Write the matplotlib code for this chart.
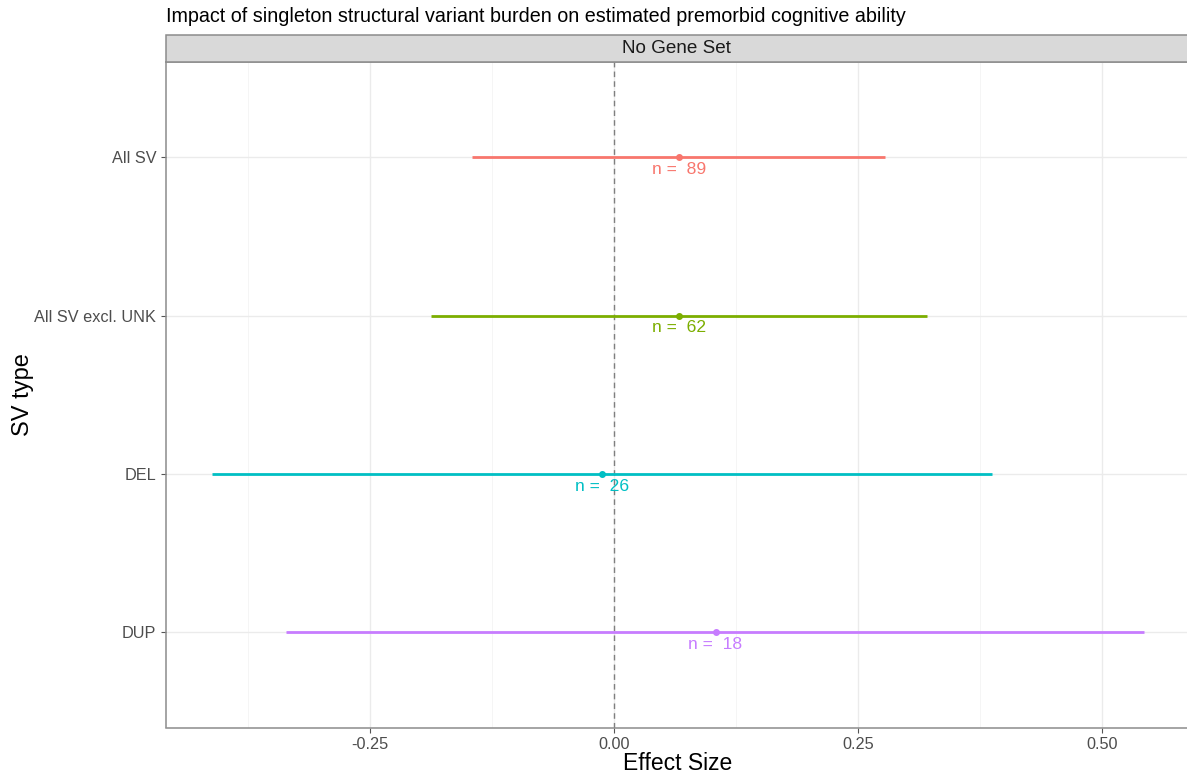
import matplotlib.pyplot as plt
from matplotlib.patches import Rectangle

plt.rcParams['font.family'] = ['Liberation Sans', 'DejaVu Sans']

# Burden estimates per SV type
sv_types = ["All SV", "All SV excl. UNK", "DEL", "DUP"]
estimate = [0.067, 0.067, -0.012, 0.104]
ci_low = [-0.146, -0.188, -0.412, -0.336]
ci_high = [0.278, 0.321, 0.387, 0.543]
n_carriers = [89, 62, 26, 18]
colors = ["#F8766D", "#7CAE00", "#00BFC4", "#C77CFF"]

xticks = [-0.25, 0.0, 0.25, 0.50]
xtick_labels = ["-0.25", "0.00", "0.25", "0.50"]
minor_ticks = [-0.375, -0.125, 0.125, 0.375]

W, H = 1187, 776
fig = plt.figure(figsize=(W / 100, H / 100), dpi=100)

left, right = 166 / W, 1189 / W
bottom, top = 1 - 727.5 / H, 1 - 62 / H
ax = fig.add_axes([left, bottom, right - left, top - bottom])

n = len(sv_types)
ypos = list(range(n))
for i in range(n):
    ax.hlines(ypos[i], ci_low[i], ci_high[i], color=colors[i], lw=2.0, zorder=3)
    ax.plot(estimate[i], ypos[i], 'o', color=colors[i], ms=4, zorder=4)
    ax.annotate(f"n =  {n_carriers[i]}", (estimate[i], ypos[i]),
                xytext=(0, -3.5), textcoords='offset points',
                ha='center', va='top', color=colors[i], fontsize=12.6, zorder=5)

ax.axvline(0, color='#7f7f7f', lw=1.0, ls=(0, (4, 3)), zorder=2)

x0 = (166 - 614) / 976
x1 = (1189 - 614) / 976
ax.set_xlim(x0, x1)
ax.set_ylim(n - 1 + 0.6, -0.6)

ax.set_xticks(xticks)
ax.set_xticklabels(xtick_labels)
ax.set_xticks(minor_ticks, minor=True)
ax.set_yticks(ypos)
ax.set_yticklabels(sv_types)

ax.grid(which='major', color='#EBEBEB', lw=1.0, zorder=0)
ax.grid(which='minor', axis='x', color='#F4F4F4', lw=0.6, zorder=0)
ax.set_axisbelow(True)
ax.tick_params(axis='both', which='major', labelsize=11.7, labelcolor='#4D4D4D',
               color='#555555', length=3.5, width=0.8, pad=3.5)
ax.tick_params(axis='x', which='minor', length=0)
for s in ax.spines.values():
    s.set_color('#8c8c8c')
    s.set_linewidth(1.1)

ax.set_xlabel("Effect Size", fontsize=16.5, labelpad=0)
ax.set_ylabel("SV type", fontsize=17, labelpad=0)

# facet strip
strip_bottom = 1 - 62 / H
strip_top = 1 - 34.5 / H
fig.patches.append(Rectangle((left, strip_bottom), right - left, strip_top - strip_bottom,
                             transform=fig.transFigure, facecolor='#D9D9D9',
                             edgecolor='#8c8c8c', lw=1.1, zorder=1))
fig.text((166 + 1187) / 2 / W, (strip_bottom + strip_top) / 2, "No Gene Set",
         ha='center', va='center', fontsize=13.6, color='#1A1A1A')

fig.text(left, 1 - 16 / H, "Impact of singleton structural variant burden on estimated premorbid cognitive ability",
         ha='left', va='center', fontsize=14.2, color='black')

fig.savefig("out.png", dpi=100)
